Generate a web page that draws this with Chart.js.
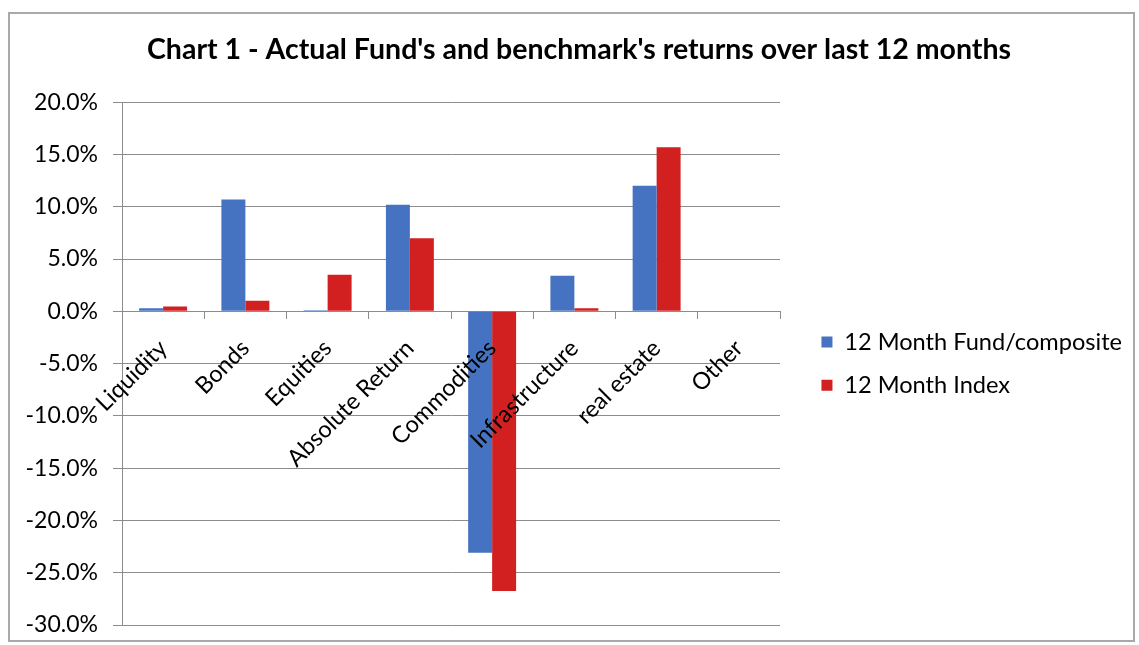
<!DOCTYPE html>
<html>
<head>
<meta charset="utf-8">
<title>Chart 1 - Actual Fund's and benchmark's returns over last 12 months</title>
<script src="https://cdn.jsdelivr.net/npm/chart.js@4.4.1/dist/chart.umd.min.js"></script>
<style>
  html, body { margin: 0; padding: 0; background: #ffffff; overflow: hidden; }
  #c { position: absolute; left: 0; top: 0; display: block; }
  #frame {
    position: absolute; left: 8px; top: 12px;
    width: 1127px; height: 630px;
    border: 2px solid #a9a9a9; box-sizing: border-box;
    background: transparent; pointer-events: none;
  }
</style>
</head>
<body>
<canvas id="c" width="1139" height="645"></canvas>
<div id="frame"></div>
<script>
// Asset classes along the category axis
const categories = ['Liquidity', 'Bonds', 'Equities', 'Absolute Return', 'Commodities', 'Infrastructure', 'real estate', 'Other'];

// 12-month returns, in percent
const fundReturns  = [0.3, 10.7, 0.1, 10.2, -23.1, 3.4, 12.0, 0];
const indexReturns = [0.45, 1.0, 3.5, 7.0, -26.75, 0.3, 15.7, 0];

// Value axis range and tick labels
const yMin = -30;
const yMax = 20;
const yStep = 5;
const yTickLabels = ['-30.0%', '-25.0%', '-20.0%', '-15.0%', '-10.0%', '-5.0%', '0.0%', '5.0%', '10.0%', '15.0%', '20.0%'];

const seriesNames = ['12 Month Fund/composite', '12 Month Index'];
const FONT = 'Lato, "Open Sans", sans-serif';
const GRID = '#8c8c8c';

const PAD_LEFT = 26;
const PAD_RIGHT = 7;
const PLOT_LEFT = 122;   // left edge of the plot area
const PLOT_RIGHT = 780;  // right edge of the plot area

// legend label metrics
const LEG_SIZE = 23.6;
const LEG_BOX = 11;
const LEG_PAD = 19.5;

// width the legend will claim (same arithmetic as the legend's own fit,
// including the 10px it adds for a vertical list)
function legendWidth(ctx) {
  ctx.save();
  ctx.font = LEG_SIZE + 'px ' + FONT;
  const tw = Math.max(...seriesNames.map((n) => ctx.measureText(n).width));
  ctx.restore();
  return LEG_PAD + LEG_BOX + LEG_SIZE / 2 + tw + 10;
}

new Chart(document.getElementById('c'), {
  type: 'bar',
  data: {
    labels: categories,
    datasets: [
      { label: seriesNames[0], data: fundReturns, backgroundColor: '#4573c1', borderWidth: 0 },
      { label: seriesNames[1], data: indexReturns, backgroundColor: '#d21f1f', borderWidth: 0 }
    ]
  },
  options: {
    responsive: false,
    animation: false,
    events: [],
    categoryPercentage: 0.583,
    barPercentage: 1.0,
    layout: { padding: { left: PAD_LEFT, right: PAD_RIGHT, top: 0, bottom: 20 } },
    plugins: {
      tooltip: { enabled: false },
      title: {
        display: true,
        text: "Chart 1 - Actual Fund's and benchmark's returns over last 12 months",
        color: '#000000',
        font: { family: FONT, size: 28.5, weight: 'bold', lineHeight: 1.2 },
        padding: { top: 33, bottom: 35 }
      },
      legend: {
        display: true,
        position: 'right',
        fullSize: false,
        maxWidth: 400,
        labels: {
          color: '#000000',
          font: { family: FONT, size: LEG_SIZE },
          boxWidth: LEG_BOX,
          boxHeight: LEG_BOX,
          padding: LEG_PAD
        }
      }
    },
    scales: {
      x: {
        position: { y: 0 },
        offset: true,
        grid: {
          display: true, offset: true, drawOnChartArea: false, drawTicks: true,
          tickLength: 7, color: GRID, lineWidth: 1
        },
        border: { display: true, color: GRID, width: 1 },
        ticks: {
          z: 1,
          autoSkip: false, minRotation: 45, maxRotation: 45,
          color: '#000000', font: { family: FONT, size: 23.5 }, padding: 16
        }
      },
      y: {
        min: yMin, max: yMax,
        grid: { color: GRID, lineWidth: 1, drawTicks: true, tickLength: 9 },
        border: { display: true, color: GRID, width: 1 },
        ticks: {
          stepSize: yStep,
          color: '#000000',
          font: { family: FONT, size: 23 },
          padding: 15,
          callback: (v) => yTickLabels[Math.round((v - yMin) / yStep)]
        },
        afterFit: (s) => {
          s.width = PLOT_LEFT - PAD_LEFT;
          s.paddingTop = 0;
          s.paddingBottom = 0;
        }
      },
      // empty spacer between the plot and the legend
      gap: {
        type: 'linear', position: 'right', display: true,
        grid: { display: false, drawOnChartArea: false },
        border: { display: false },
        ticks: { display: false },
        afterFit: (s) => {
          s.width = Math.max(0, s.chart.width - PAD_RIGHT - PLOT_RIGHT - legendWidth(s.ctx));
        }
      }
    }
  }
});
</script>
</body>
</html>
